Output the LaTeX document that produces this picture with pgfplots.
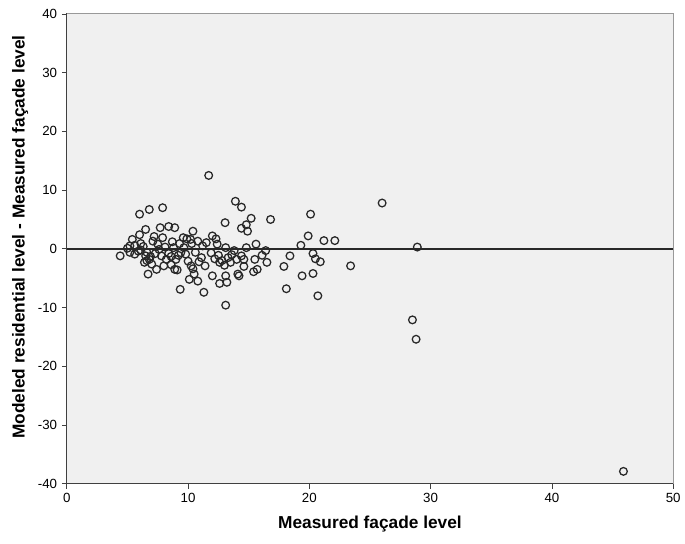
\documentclass[border=0pt]{standalone}
\usepackage{fontspec}
\setmainfont{Liberation Sans}
\usepackage{pgfplots}
\pgfplotsset{compat=1.18}
\definecolor{bg}{RGB}{240,240,240}
\definecolor{ptc}{RGB}{40,40,40}
\begin{document}
\begin{tikzpicture}
\begin{axis}[name=ax, scale only axis, width=456pt, height=353.25pt,
 xmin=0, xmax=50, ymin=-40, ymax=40,
 xtick={0,10,...,50}, ytick={-40,-30,...,40},
 axis background/.style={fill=bg},
 axis line style={draw=black!75, line width=0.8pt},
 tick align=outside, major tick length=3.75pt,
 xtick pos=bottom, ytick pos=left,
 tick style={black!75, line width=0.6pt},
 tick label style={font=\fontsize{10}{12}\selectfont},
 /pgf/number format/assume math mode=true,
 xlabel={Measured façade level},
 ylabel={Modeled residential level - Measured façade level},
 label style={font=\fontsize{13}{15}\selectfont\bfseries},
 xlabel style={at={(axis description cs:0.5,-0.085)}, anchor=center},
 ylabel style={at={(axis description cs:-0.077,0.525)}, anchor=center},
]
\addplot[ptc, line width=1.3pt, forget plot] coordinates {(0,0) (50,0)};
\addplot[only marks, mark=o, mark size=2.9pt, mark options={draw=ptc, line width=0.95pt}] table {
x y
4.4 -1.2
5.2 0.5
5.2 -0.6
5.4 1.6
5.9 -0.4
6.0 2.4
6.0 5.9
6.3 0.4
6.5 3.3
6.5 -1.2
6.8 -1.8
6.4 -2.3
6.7 -4.3
6.8 6.7
7.1 1.3
7.2 2.1
7.4 -3.5
7.6 -0.1
7.7 3.6
7.8 -1.2
7.9 1.9
7.9 7.0
8.0 -2.9
8.2 -1.8
8.4 3.8
8.7 1.2
8.9 3.6
8.9 -3.5
9.0 -1.8
9.4 -0.65
9.35 -6.9
9.6 1.9
9.65 0.2
10.0 -2.1
10.2 1.6
10.25 -2.9
10.4 3.0
10.5 -4.3
10.1 -5.2
10.8 -5.5
10.8 1.3
11.1 -1.5
11.4 -2.9
11.3 -7.4
11.5 1.05
11.7 12.5
12.0 2.2
12.3 1.7
12.4 0.8
12.2 -1.7
12.6 -2.3
12.0 -4.6
13.1 0.2
13.05 4.45
13.3 -1.5
13.1 -4.6
13.2 -5.7
13.1 -9.6
13.9 8.1
14.4 7.1
14.4 3.5
14.8 4.1
14.9 3.0
14.8 0.2
14.4 -1.2
14.6 -1.8
14.6 -3.0
14.1 -4.3
14.2 -4.6
15.2 5.2
15.6 0.8
15.5 -1.8
15.7 -3.5
15.4 -3.9
16.1 -1.1
16.4 -0.3
16.5 -2.3
16.8 5.0
17.9 -3.0
18.1 -6.8
18.4 -1.2
19.3 0.6
19.9 2.2
20.1 5.9
20.3 -0.8
20.5 -1.7
20.9 -2.2
20.3 -4.2
19.4 -4.6
20.7 -8.0
21.2 1.4
22.1 1.4
23.4 -2.9
26.0 7.8
28.9 0.3
28.5 -12.1
28.8 -15.4
45.9 -37.9
5.0 0.1
5.6 -0.9
6.1 -0.2
6.6 -0.6
6.9 -1.3
6.6 -2.0
7.0 -2.6
7.3 -0.8
7.5 0.8
8.1 0.3
8.4 -0.8
8.6 -1.3
8.8 0.2
9.2 -1.1
9.3 0.9
9.8 -0.9
9.9 1.7
10.3 0.9
10.6 -0.6
10.4 -3.4
10.9 -2.2
11.2 0.5
11.9 -0.7
12.5 -1.1
12.8 -2.0
13.5 -2.3
13.6 -1.0
13.8 -0.3
13.0 -2.8
14.0 -1.8
12.6 -5.9
9.1 -3.6
8.6 -2.7
6.1 0.9
5.6 0.6
};
\end{axis}
\draw[gray!80, line width=0.8pt] (ax.north west) -- (ax.north east) -- (ax.south east);
\path ([shift={(-50.25pt,-45pt)}]ax.south west) rectangle ([shift={(7.5pt,10.5pt)}]ax.north east);
\end{tikzpicture}
\end{document}
